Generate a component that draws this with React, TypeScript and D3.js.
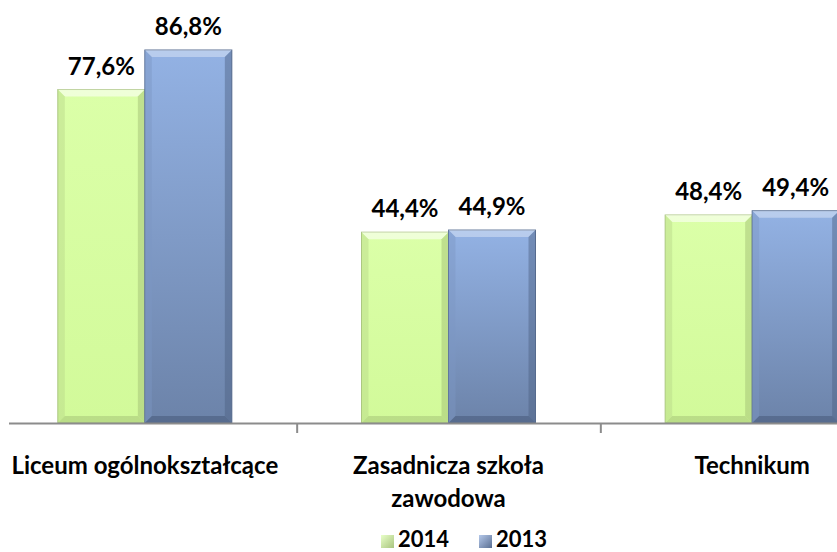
import * as d3 from "d3";
import React from "react";

const categories = ["Liceum ogólnokształcące", "Zasadnicza szkoła zawodowa", "Technikum"];
const categoryLines = [["Liceum ogólnokształcące"], ["Zasadnicza szkoła", "zawodowa"], ["Technikum"]];
const series = ["2014", "2013"];
const values2014 = [77.6, 44.4, 48.4];
const values2013 = [86.8, 44.9, 49.4];
const labels2014 = ["77,6%", "44,4%", "48,4%"];
const labels2013 = ["86,8%", "44,9%", "49,4%"];

const W = 837;
const H = 552;
const baseY = 423;
const font = "Lato, 'Open Sans', sans-serif";

export default function App() {
  // scales
  const x0 = d3.scaleBand<string>().domain(categories).range([-7, 904]).paddingInner(0);
  const groupW = 174;
  const x1 = d3.scaleBand<string>().domain(series).range([0, groupW]).paddingInner(0);
  const y = d3.scaleLinear().domain([0, 86.8]).range([baseY, 50]);

  const data = series.map((s, si) => ({
    key: s,
    values: si === 0 ? values2014 : values2013,
    labels: si === 0 ? labels2014 : labels2013,
  }));

  const bar = (x: number, top: number, w: number, kind: string) => {
    const h = baseY - top;
    const b = 7;
    const green = kind === "2014";
    return (
      <g>
        <rect x={x} y={top} width={w} height={h} fill={green ? "url(#gGreen)" : "url(#gBlue)"}
          stroke={green ? "#a9c47f" : "#5a6f92"} strokeWidth={1} />
        {/* bevel: top highlight */}
        <path d={`M${x},${top}L${x + w},${top}L${x + w - b},${top + b}L${x + b},${top + b}Z`}
          fill="#ffffff" opacity={green ? 0.55 : 0.35} />
        {/* left side */}
        <path d={`M${x},${top}L${x + b},${top + b}L${x + b},${baseY - b}L${x},${baseY}Z`}
          fill={green ? "#b7d68a" : "#7d97c4"} opacity={0.45} />
        {/* right side */}
        <path d={`M${x + w},${top}L${x + w - b},${top + b}L${x + w - b},${baseY - b}L${x + w},${baseY}Z`}
          fill={green ? "#9dbb70" : "#4c5f80"} opacity={0.45} />
        {/* bottom */}
        <path d={`M${x},${baseY}L${x + b},${baseY - b}L${x + w - b},${baseY - b}L${x + w},${baseY}Z`}
          fill={green ? "#9dbb70" : "#3f4f6e"} opacity={0.45} />
      </g>
    );
  };

  return (
    <svg width={W} height={H} style={{ position: "absolute", left: 0, top: 0, background: "#fff" }}>
      <defs>
        <linearGradient id="gGreen" x1="0" y1="0" x2="0" y2="1">
          <stop offset="0" stopColor="#dbffa8" />
          <stop offset="1" stopColor="#d2fa9a" />
        </linearGradient>
        <linearGradient id="gBlue" x1="0" y1="0" x2="0" y2="1">
          <stop offset="0" stopColor="#93b2e4" />
          <stop offset="1" stopColor="#6c83a9" />
        </linearGradient>
        <linearGradient id="lgGreen" x1="0" y1="0" x2="1" y2="1">
          <stop offset="0" stopColor="#e8ffc8" />
          <stop offset="1" stopColor="#a9c47f" />
        </linearGradient>
        <linearGradient id="lgBlue" x1="0" y1="0" x2="1" y2="1">
          <stop offset="0" stopColor="#b4c8ea" />
          <stop offset="1" stopColor="#5a6f92" />
        </linearGradient>
      </defs>

      {/* bars */}
      {categories.map((c, ci) => {
        const gx = x0(c)! + (x0.bandwidth() - groupW) / 2;
        return (
          <g key={c}>
            {data.map((s) => {
              const bx = gx + x1(s.key)!;
              const top = y(s.values[ci]);
              return (
                <g key={s.key}>
                  {bar(bx, top, x1.bandwidth(), s.key)}
                  <text x={bx + x1.bandwidth() / 2} y={top - 15} textAnchor="middle"
                    fontFamily={font} fontWeight="bold" fontSize={24} fill="#000">
                    {s.labels[ci]}
                  </text>
                </g>
              );
            })}
          </g>
        );
      })}

      {/* axis */}
      <line x1={9} x2={W} y1={baseY + 0.5} y2={baseY + 0.5} stroke="#8c8c8c" strokeWidth={2} />
      {categories.slice(1).map((c) => (
        <line key={c} x1={x0(c)! + 0.5} x2={x0(c)! + 0.5} y1={baseY} y2={baseY + 10}
          stroke="#8c8c8c" strokeWidth={2} />
      ))}

      {/* category labels */}
      {categories.map((c, ci) => (
        <text key={c} x={x0(c)! + x0.bandwidth() / 2} y={474} textAnchor="middle"
          fontFamily={font} fontWeight="bold" fontSize={24} fill="#000">
          {categoryLines[ci].map((ln, li) => (
            <tspan key={li} x={x0(c)! + x0.bandwidth() / 2} dy={li === 0 ? 0 : 33}>{ln}</tspan>
          ))}
        </text>
      ))}

      {/* legend */}
      {series.map((s, si) => {
        const lx = 381 + si * 98;
        return (
          <g key={s}>
            <rect x={lx} y={535} width={13} height={13} fill={si === 0 ? "url(#lgGreen)" : "url(#lgBlue)"} />
            <text x={lx + 17} y={547} fontFamily={font} fontWeight="bold" fontSize={22} fill="#000">{s}</text>
          </g>
        );
      })}
    </svg>
  );
}
